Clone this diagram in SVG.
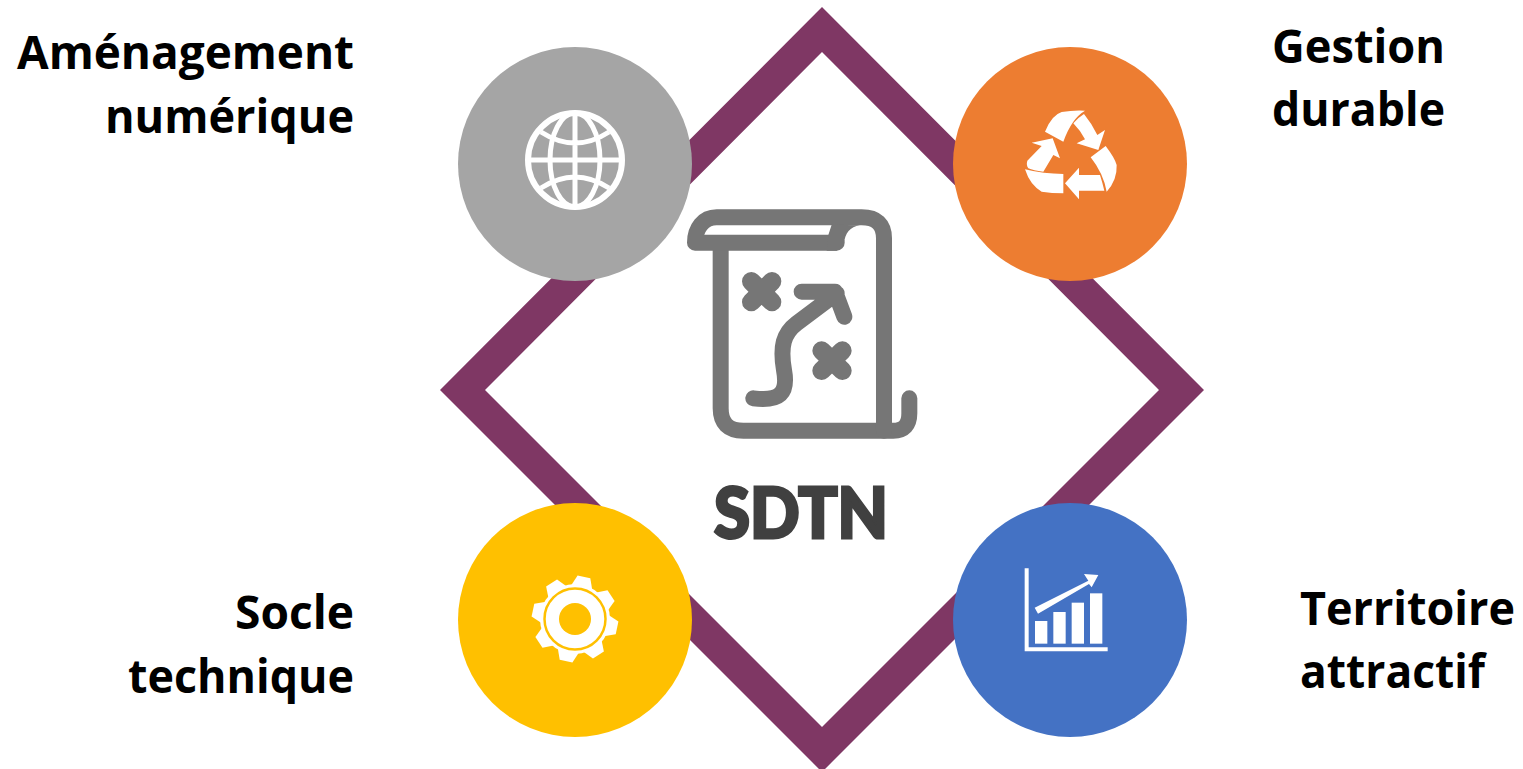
<svg xmlns="http://www.w3.org/2000/svg" xmlns:xlink="http://www.w3.org/1999/xlink" width="1523" height="769" viewBox="0 0 1523 769">
<style>
.lab{font-family:"Open Sans","Noto Sans","Liberation Sans",sans-serif;font-weight:700;font-size:46px;fill:#000}
.end{text-anchor:end}
.ico{fill:#fff;stroke:none}
.gl{fill:none;stroke:#fff;stroke-width:5}
.map{fill:none;stroke:#767676;stroke-width:48;stroke-linecap:round;stroke-linejoin:round}
.mapx{stroke-width:56}
</style>
<defs>
<polygon id="tooth" points="563,590 568.5,576 581.5,576 587,590"/>
</defs>
<rect width="1523" height="769" fill="#fff"/>
<g id="connectors">
<path id="diamond" fill="#7f3764" fill-rule="evenodd" d="M822,7 L1204,390 L822,772 L440,390 Z M822,52 L485,390 L822,727 L1159,390 Z"/>
</g>
<g id="center-map">
<g transform="translate(680,200) scale(.33333)">
<path class="map" d="M122,130 V625 Q122,692 190,692 H640 Q688,692 688,640 V595"/>
<path class="map" d="M612,692 V115 Q612,52 545,52 H110 C70,52 45,85 45,128 H470"/>
<path fill="#767676" d="M445,105 L455,74 L540,76 C510,80 495,100 492,130 L470,152 H440 Z"/>
<path class="map mapx" d="M214,244 L276,306 M276,244 L214,306 M425,452 L487,512 M487,452 L425,512"/>
<path class="map" d="M220,595 C300,605 325,580 312,510 C300,440 310,400 350,370 L470,280 M365,275 H465 L493,350"/>
</g>
<text x="801" y="538" text-anchor="middle" textLength="174" lengthAdjust="spacingAndGlyphs" font-family="Lato,'Open Sans',sans-serif" font-weight="900" font-size="70" fill="#404040" stroke="#404040" stroke-width="3">SDTN</text>
</g>
<g id="node-amenagement">
<circle cx="575" cy="164" r="117" fill="#a5a5a5"/>
<g class="gl">
<circle cx="575" cy="160" r="47" stroke-width="6"/>
<ellipse cx="575" cy="160" rx="25" ry="47"/>
<path d="M575,113 V207 M528,160 H622 M541,132 Q575,154 609,132 M541,188 Q575,166 609,188"/>
</g>
<text class="lab end" x="354" y="69" textLength="337" lengthAdjust="spacingAndGlyphs">Aménagement</text>
<text class="lab end" x="354" y="133" textLength="249" lengthAdjust="spacingAndGlyphs">numérique</text>
</g>
<g id="node-gestion">
<circle cx="1070" cy="164" r="117" fill="#ed7d31"/>
<g transform="translate(1010,100) scale(.33333)" class="ico">
<path d="M105,95 Q125,45 155,36 Q190,30 225,32 Q185,55 160,125 Z"/>
<path d="M190,70 Q205,52 222,42 Q245,70 262,105 L285,90 L265,150 L200,130 L225,118 Q210,90 190,70 Z"/>
<path d="M242,172 L287,138 Q315,175 320,195 Q322,240 290,275 Q280,220 242,172 Z"/>
<path d="M165,250 L207,203 V225 H270 Q278,250 283,272 H207 V298 Z"/>
<path d="M45,208 Q100,222 160,222 V280 Q125,280 95,275 Q60,255 45,208 Z"/>
<path d="M65,128 L128,115 L150,175 L130,165 L100,215 Q70,212 55,205 Q48,195 52,182 L95,138 Z"/>
</g>
<text class="lab" x="1272" y="63" textLength="173" lengthAdjust="spacingAndGlyphs">Gestion</text>
<text class="lab" x="1272" y="126" textLength="173" lengthAdjust="spacingAndGlyphs">durable</text>
</g>
<g id="node-socle">
<circle cx="575" cy="620" r="117" fill="#ffc000"/>
<g class="ico">
<circle cx="575" cy="619" r="35"/>
<use xlink:href="#tooth" href="#tooth" transform="rotate(12 575 619)"/>
<use xlink:href="#tooth" href="#tooth" transform="rotate(57 575 619)"/>
<use xlink:href="#tooth" href="#tooth" transform="rotate(102 575 619)"/>
<use xlink:href="#tooth" href="#tooth" transform="rotate(147 575 619)"/>
<use xlink:href="#tooth" href="#tooth" transform="rotate(192 575 619)"/>
<use xlink:href="#tooth" href="#tooth" transform="rotate(237 575 619)"/>
<use xlink:href="#tooth" href="#tooth" transform="rotate(282 575 619)"/>
<use xlink:href="#tooth" href="#tooth" transform="rotate(327 575 619)"/>
</g>
<circle cx="575" cy="619" r="30.5" fill="none" stroke="#ffc000" stroke-width="2.5"/>
<circle cx="575" cy="619" r="16" fill="#ffc000"/>
<text class="lab end" x="354" y="629" textLength="119" lengthAdjust="spacingAndGlyphs">Socle</text>
<text class="lab end" x="354" y="693" textLength="226" lengthAdjust="spacingAndGlyphs">technique</text>
</g>
<g id="node-territoire">
<circle cx="1070" cy="620" r="117" fill="#4472c4"/>
<g transform="translate(1010,560) scale(.33333)">
<path d="M50,25 V268 H293" fill="none" stroke="#fff" stroke-width="12"/>
<g class="ico">
<rect x="75" y="183" width="37" height="68"/>
<rect x="130" y="156" width="37" height="95"/>
<rect x="185" y="128" width="37" height="123"/>
<rect x="240" y="100" width="37" height="151"/>
<polygon points="84,161 74,143 235,62 222,42 265,45 245,82 237,72"/>
</g>
</g>
<text class="lab" x="1300" y="625" textLength="215" lengthAdjust="spacingAndGlyphs">Territoire</text>
<text class="lab" x="1300" y="688" textLength="185" lengthAdjust="spacingAndGlyphs">attractif</text>
</g>
</svg>
